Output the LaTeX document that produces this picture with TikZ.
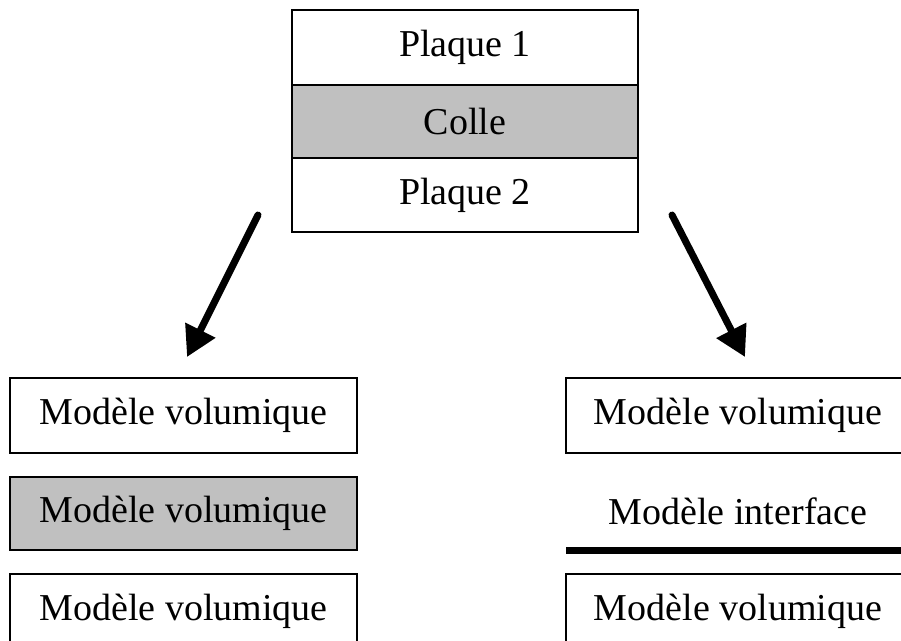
\documentclass[tikz,border=0pt]{standalone}
\usepackage{fontspec}
\setmainfont{Liberation Serif}
\usetikzlibrary{arrows.meta}
\definecolor{glue}{HTML}{C0C0C0}
\begin{document}
\begin{tikzpicture}[x=1pt,y=-1pt,
  box/.style={draw=black,line width=2pt,rectangle,inner sep=0pt,
    font=\fontsize{38}{40}\selectfont,text=black},
  plain/.style={inner sep=0pt,font=\fontsize{38}{40}\selectfont,text=black},
  bigarrow/.style={line width=7pt,line cap=round,
    -{Triangle[length=30pt,width=32pt]}}]
\useasboundingbox (0,0) rectangle (901,640);
\clip (0,0) rectangle (901,640);
\fill[white] (0,0) rectangle (901,640);
% top stack
\node[box,minimum width=346pt,minimum height=75pt] (p1) at (465,47.5) {Plaque 1};
\node[box,fill=glue,minimum width=346pt,minimum height=73pt] (colle) at (465,121.5) {Colle};
\node[box,minimum width=346pt,minimum height=74pt] (p2) at (465,195) {Plaque 2};
% arrows
\coordinate (als) at (258,215);
\coordinate (ale) at (187,357);
\coordinate (ars) at (672,215);
\coordinate (are) at (745,357);
\draw[bigarrow] (als) -- (ale);
\draw[bigarrow] (ars) -- (are);
% left column
\node[box,minimum width=347pt,minimum height=75pt] (l1) at (183.5,415.5) {Modèle volumique};
\node[box,fill=glue,minimum width=347pt,minimum height=73pt] (l2) at (183.5,513.5) {Modèle volumique};
\node[box,minimum width=347pt,minimum height=75pt] (l3) at (183.5,611.5) {Modèle volumique};
% right column
\node[box,minimum width=344pt,minimum height=75pt] (r1) at (738,415.5) {Modèle volumique};
\node[plain] (ri) at (738,511) {Modèle interface};
\coordinate (ils) at (566,550.5);
\coordinate (ile) at (910,550.5);
\draw[line width=7pt] (ils) -- (ile);
\node[box,minimum width=344pt,minimum height=75pt] (r3) at (738,611.5) {Modèle volumique};
\end{tikzpicture}
\end{document}
